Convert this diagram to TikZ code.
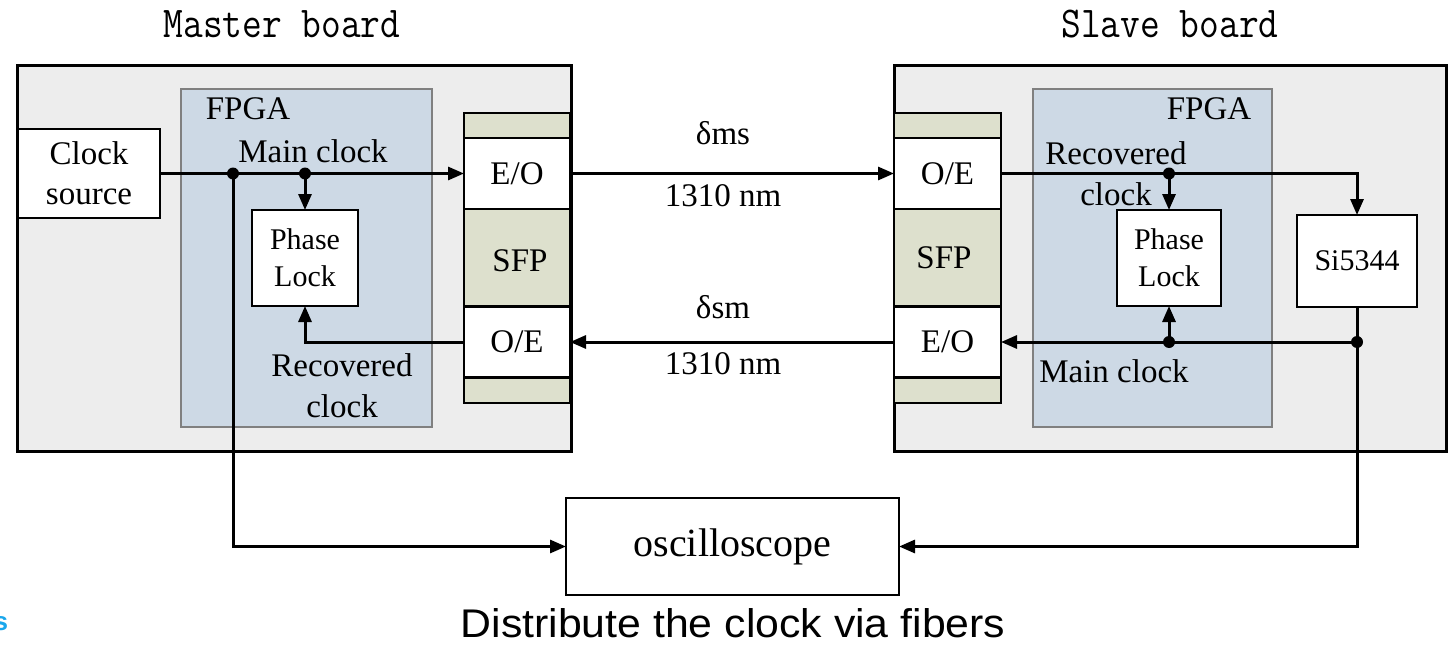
\documentclass[tikz,border=0pt]{standalone}
\usepackage{fontspec}
\setmainfont{Liberation Serif}
\newfontfamily\capfont{Liberation Sans}
\usetikzlibrary{arrows.meta}
\definecolor{boardgray}{HTML}{EDEDED}
\definecolor{fpgablue}{HTML}{CDD9E5}
\definecolor{fpgaedge}{HTML}{808080}
\definecolor{sfpgreen}{HTML}{DDE0CD}
\definecolor{cyanS}{HTML}{1AA7EC}
\tikzset{
  every node/.style={inner sep=0pt, outer sep=0pt},
  boardbox/.style={draw=black, line width=3pt, fill=boardgray},
  fpgabox/.style={draw=fpgaedge, line width=2.6pt, fill=fpgablue},
  whitebox/.style={draw=black, line width=2.8pt, fill=white, align=center, font=\fontsize{33}{40}\selectfont},
  smallbox/.style={whitebox, font=\fontsize{30}{37}\selectfont},
  sfpcol/.style={draw=black, line width=2.8pt, fill=sfpgreen},
  lbl/.style={font=\fontsize{33}{41}\selectfont, align=center},
  conn/.style={line width=3pt, -{Triangle[length=16pt,width=13pt]}},
  titletext/.style={font=\fontsize{38.3}{44}\ttfamily},
}
\begin{document}
\begin{tikzpicture}[x=1pt,y=-1pt]
\fill[white] (0,0) rectangle (1455,650);
\useasboundingbox (0,0) rectangle (1455,650);

% titles
\node[titletext, anchor=base] (tm) at (282,38) {\scalebox{1}[1.15]{Master board}};
\node[titletext, anchor=base] (ts) at (1170,38) {\scalebox{1}[1.15]{Slave board}};

% boards
\node[boardbox, minimum width=554pt, minimum height=385pt] (mb) at (294,258.5) {};
\node[boardbox, minimum width=552pt, minimum height=385pt] (sb) at (1170,258.5) {};

% FPGA areas
\node[fpgabox, minimum width=251pt, minimum height=338pt] (mf) at (306.5,258) {};
\node[fpgabox, minimum width=239pt, minimum height=338pt] (sf) at (1152.5,258) {};
\node[lbl, anchor=base] (mft) at (248,120) {FPGA};
\node[lbl, anchor=base] (sft) at (1209,120) {FPGA};

% SFP columns
\node[sfpcol, minimum width=106pt, minimum height=290pt] (msfp) at (517,258) {};
\node[sfpcol, minimum width=107pt, minimum height=290pt] (ssfp) at (947.5,258) {};
\node[lbl] (msfpt) at (520,261) {SFP};
\node[lbl] (ssfpt) at (944,257.5) {SFP};
\node[whitebox, minimum width=106pt, minimum height=71pt] (meo) at (517,173.5) {E/O};
\node[whitebox, minimum width=106pt, minimum height=71pt] (moe) at (517,342) {O/E};
\node[whitebox, minimum width=107pt, minimum height=71pt] (soe) at (947.5,173.5) {O/E};
\node[whitebox, minimum width=107pt, minimum height=71pt] (seo) at (947.5,342) {E/O};

% boxes
\node[whitebox, minimum width=142pt, minimum height=89pt] (cs) at (89,173.5) {Clock\\source};
\node[smallbox, minimum width=106pt, minimum height=96pt] (mpl) at (305,258) {Phase\\Lock};
\node[smallbox, minimum width=104pt, minimum height=96pt] (spl) at (1169,258) {Phase\\Lock};
\node[smallbox, minimum width=120pt, minimum height=92pt] (si) at (1357,261) {Si5344};
\node[whitebox, minimum width=333pt, minimum height=97pt, font=\fontsize{40}{48}\selectfont] (osc) at (732.5,546.5) {oscilloscope};

% junction coordinates
\coordinate (d1) at (233,173.5);
\coordinate (d2) at (305,173.5);
\coordinate (d3) at (1169,173.5);
\coordinate (d4) at (1169,342);
\coordinate (d5) at (1357,342);

% master connectors
\draw[conn] (cs.east) -- (meo.west);
\draw[conn] (d2) -- (mpl.north);
\draw[conn] (moe.west) -| (mpl.south);
\draw[conn] (d1) |- (osc.west);

% fiber connectors
\draw[conn] (meo.east) -- (soe.west);
\draw[conn] (seo.west) -- (moe.east);

% slave connectors
\draw[conn] (soe.east) -| (si.north);
\draw[conn] (d3) -- (spl.north);
\draw[conn] (si.south) |- (osc.east);
\draw[conn] (d5) -- (seo.east);
\draw[conn] (d4) -- (spl.south);

% junction dots
\foreach \p in {d1,d2,d3,d4,d5} \fill[black] (\p) circle (6pt);

% labels
\node[lbl, anchor=base] (mmc) at (313,162) {Main clock};
\node[lbl] (mrc) at (342,385.3) {Recovered\\clock};
\node[lbl] (src) at (1116,173.3) {Recovered\\clock};
\node[lbl, anchor=base] (smc) at (1114,382) {Main clock};
\node[lbl, anchor=base] (f1) at (723,144) {δms};
\node[lbl, anchor=base] (f2) at (723,206) {1310 nm};
\node[lbl, anchor=base] (f3) at (723,318) {δsm};
\node[lbl, anchor=base] (f4) at (723,374) {1310 nm};

% caption
\node[anchor=base, font=\fontsize{40}{48}\capfont] (cap) at (733,637) {\scalebox{1.07}[1]{Distribute the clock via fibers}};
\node[anchor=base east, font=\fontsize{26}{30}\capfont\bfseries, text=cyanS] (cut) at (8,630) {s};
\end{tikzpicture}
\end{document}
